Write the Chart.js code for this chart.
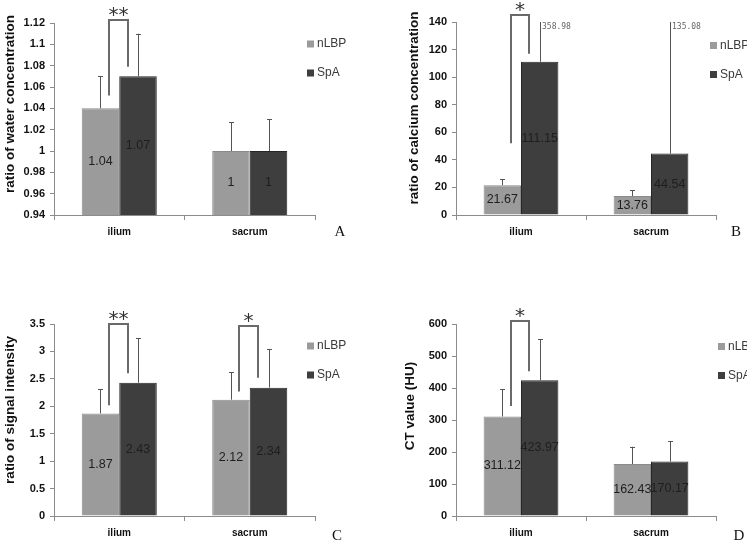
<!DOCTYPE html>
<html>
<head>
<meta charset="utf-8">
<script src="https://cdn.jsdelivr.net/npm/chart.js@4.4.1/dist/chart.umd.min.js"></script>
<style>
    html, body { margin: 0; padding: 0; background: #fff; }
    #wrap { position: relative; width: 747px; height: 542px; overflow: hidden; }
    .panel { position: absolute; }
</style>
</head>
<body>
<div id="wrap">
    <div class="panel" style="left:0;top:0;width:374px;height:250px"><canvas id="cA"></canvas></div>
    <div class="panel" style="left:374px;top:0;width:373px;height:250px"><canvas id="cB"></canvas></div>
    <div class="panel" style="left:0;top:250px;width:374px;height:292px"><canvas id="cC"></canvas></div>
    <div class="panel" style="left:374px;top:250px;width:373px;height:292px"><canvas id="cD"></canvas></div>
</div>
<script>
// ---- data ----
var categories  = ["ilium", "sacrum"];
var seriesNames = ["nLBP", "SpA"];

var waterNLBP   = [1.04, 1.00];
var waterSpA    = [1.07, 1.00];
var waterSdNLBP = [0.03, 0.027];
var waterSdSpA  = [0.04, 0.03];
var waterTicks  = [0.94, 0.96, 0.98, 1.00, 1.02, 1.04, 1.06, 1.08, 1.10, 1.12];

var calciumNLBP   = [21.67, 13.76];
var calciumSpA    = [111.15, 44.54];
var calciumSdNLBP = [4.3, 4.4];
var calciumSdSpA  = [358.98, 135.08];
var calciumTicks  = [0, 20, 40, 60, 80, 100, 120, 140];

var signalNLBP   = [1.87, 2.12];
var signalSpA    = [2.43, 2.34];
var signalSdNLBP = [0.44, 0.50];
var signalSdSpA  = [0.81, 0.70];
var signalTicks  = [0, 0.5, 1, 1.5, 2, 2.5, 3, 3.5];

var ctNLBP   = [311.12, 162.43];
var ctSpA    = [423.97, 170.17];
var ctSdNLBP = [85, 54];
var ctSdSpA  = [128, 63];
var ctTicks  = [0, 100, 200, 300, 400, 500, 600];

// significance brackets: category, left foot, right foot, top (data units)
var waterSig   = [{ cat: 0, left: 1.052, right: 1.079, top: 1.123, mark: "**" }];
var calciumSig = [{ cat: 0, left: 52, right: 117, top: 145, mark: "*" }];
var signalSig  = [{ cat: 0, left: 2.02, right: 2.60, top: 3.5, mark: "**" },
                  { cat: 1, left: 2.27, right: 2.52, top: 3.47, mark: "*" }];
var ctSig      = [{ cat: 0, left: 344, right: 452, top: 608, mark: "*" }];

var COLORS  = ["#9b9b9b", "#3e3e3e"];
var BORDERS = ["#8a8a8a", "#262626"];
var AXIS    = "#8c8c8c";
var SANS    = "'Liberation Sans', Arial, sans-serif";

// extra drawing: error bars, value labels, brackets, legend, titles
var extras = {
    id: "extras",
    afterDatasetsDraw: function (chart, args, o) {
        var ctx = chart.ctx, ys = chart.scales.y, area = chart.chartArea;
        ctx.save();

        chart.data.datasets.forEach(function (ds, di) {
            var meta = chart.getDatasetMeta(di);
            meta.data.forEach(function (bar, i) {
                var v = ds.data[i], hi = v + ds.sd[i];
                var clipped = hi > ys.max;
                var py = ys.getPixelForValue(Math.min(hi, ys.max));
                var x = Math.round(bar.x) + 0.5;
                ctx.strokeStyle = "#555";
                ctx.lineWidth = 1;
                ctx.beginPath();
                ctx.moveTo(x, bar.y);
                ctx.lineTo(x, py);
                if (!clipped) {
                    ctx.moveTo(x - 2.5, Math.round(py) + 0.5);
                    ctx.lineTo(x + 2.5, Math.round(py) + 0.5);
                }
                ctx.stroke();
                if (clipped) {
                    ctx.fillStyle = "#666";
                    ctx.font = "8px 'DejaVu Sans Mono', monospace";
                    ctx.textAlign = "left";
                    ctx.textBaseline = "middle";
                    ctx.fillText(String(ds.sd[i]), x + 1.5, py + 5);
                }
                // value label in the middle of the visible bar
                var base = Math.min(bar.base, area.bottom);
                ctx.fillStyle = "#1e1e1e";
                ctx.font = "12.5px " + SANS;
                ctx.textAlign = "center";
                ctx.textBaseline = "middle";
                ctx.fillText(String(v), bar.x, (bar.y + base) / 2);
            });
        });

        // brackets
        var m0 = chart.getDatasetMeta(0), m1 = chart.getDatasetMeta(1);
        (o.brackets || []).forEach(function (b) {
            var b0 = m0.data[b.cat], b1 = m1.data[b.cat];
            var xl = Math.round(b0.x + b0.width * 0.22);
            var xr = Math.round(b1.x - b1.width * 0.28);
            var yt = Math.round(ys.getPixelForValue(b.top));
            ctx.strokeStyle = "#6a6a6a";
            ctx.lineWidth = 2;
            ctx.beginPath();
            ctx.moveTo(xl, ys.getPixelForValue(b.left));
            ctx.lineTo(xl, yt);
            ctx.lineTo(xr, yt);
            ctx.lineTo(xr, ys.getPixelForValue(b.right));
            ctx.stroke();
            ctx.fillStyle = "#333";
            ctx.font = "20px 'DejaVu Sans', sans-serif";
            ctx.textAlign = "center";
            ctx.textBaseline = "alphabetic";
            ctx.fillText(b.mark, (xl + xr) / 2, yt + 1);
        });

        // legend
        chart.data.datasets.forEach(function (ds, di) {
            var lx = o.legend.x, ly = o.legend.y + di * 29;
            ctx.fillStyle = ds.backgroundColor;
            ctx.fillRect(lx, ly - 3.5, 7, 7);
            ctx.fillStyle = "#3a3a3a";
            ctx.font = "12px " + SANS;
            ctx.textAlign = "left";
            ctx.textBaseline = "middle";
            ctx.fillText(ds.label, lx + 10, ly);
        });

        // y title
        ctx.save();
        ctx.translate(o.title.x, o.title.y);
        ctx.rotate(-Math.PI / 2);
        ctx.fillStyle = "#111";
        ctx.font = "bold 13.5px " + SANS;
        ctx.textAlign = "center";
        ctx.textBaseline = "middle";
        ctx.fillText(o.title.text, 0, 0);
        ctx.restore();

        // panel letter
        ctx.fillStyle = "#111";
        ctx.font = "15px 'Liberation Serif', serif";
        ctx.textAlign = "center";
        ctx.textBaseline = "alphabetic";
        ctx.fillText(o.letter.text, o.letter.x, o.letter.y);

        ctx.restore();
    }
};

function panel(canvasId, cfg) {
    var el = document.getElementById(canvasId);
    var W = el.parentNode.clientWidth, H = el.parentNode.clientHeight;
    var a = cfg.area;
    var sets = [cfg.nlbp, cfg.spa];
    var sds = [cfg.sdN, cfg.sdS];

    return new Chart(el.getContext("2d"), {
        type: "bar",
        data: {
            labels: categories,
            datasets: sets.map(function (d, k) {
                return {
                    label: seriesNames[k],
                    data: d,
                    sd: sds[k],
                    backgroundColor: COLORS[k],
                    borderColor: BORDERS[k],
                    borderWidth: 1,
                    categoryPercentage: 0.575,
                    barPercentage: 1
                };
            })
        },
        options: {
            responsive: true,
            maintainAspectRatio: false,
            animation: false,
            events: [],
            layout: { padding: { left: 0, right: W - a.right, top: a.top, bottom: 0 } },
            plugins: {
                legend: { display: false },
                tooltip: { enabled: false },
                extras: cfg.extras
            },
            scales: {
                x: {
                    grid: { display: true, drawOnChartArea: false, drawTicks: true, tickLength: 5, color: AXIS },
                    border: { color: AXIS },
                    ticks: { color: "#111", font: { family: SANS, size: 10, weight: "bold" }, padding: 6 },
                    afterFit: function (s) { s.height = H - a.bottom; }
                },
                y: {
                    min: cfg.ticks[0],
                    max: cfg.ticks[cfg.ticks.length - 1],
                    grid: { display: true, drawOnChartArea: false, drawTicks: true, tickLength: 4, color: AXIS },
                    border: { color: AXIS },
                    afterBuildTicks: function (s) {
                        s.ticks = cfg.ticks.map(function (v) { return { value: v }; });
                    },
                    ticks: {
                        color: "#111",
                        font: { family: SANS, size: 11, weight: "bold" },
                        padding: 5,
                        callback: function (v) { return String(+(+v).toFixed(2)); }
                    },
                    afterFit: function (s) { s.width = a.left; }
                }
            }
        },
        plugins: [extras]
    });
}

panel("cA", {
    nlbp: waterNLBP, spa: waterSpA, sdN: waterSdNLBP, sdS: waterSdSpA, ticks: waterTicks,
    area: { left: 54, right: 315, top: 23, bottom: 215 },
    extras: {
        brackets: waterSig,
        legend: { x: 307, y: 44 },
        title: { text: "ratio of water concentration", x: 10, y: 104 },
        letter: { text: "A", x: 340, y: 236 }
    }
});

panel("cB", {
    nlbp: calciumNLBP, spa: calciumSpA, sdN: calciumSdNLBP, sdS: calciumSdSpA, ticks: calciumTicks,
    area: { left: 82, right: 342, top: 22, bottom: 215 },
    extras: {
        brackets: calciumSig,
        legend: { x: 336, y: 45.5 },
        title: { text: "ratio of calcium concentration", x: 40, y: 108 },
        letter: { text: "B", x: 362, y: 236 }
    }
});

panel("cC", {
    nlbp: signalNLBP, spa: signalSpA, sdN: signalSdNLBP, sdS: signalSdSpA, ticks: signalTicks,
    area: { left: 54, right: 315, top: 74, bottom: 266 },
    extras: {
        brackets: signalSig,
        legend: { x: 307, y: 96 },
        title: { text: "ratio of signal intensity", x: 10, y: 160 },
        letter: { text: "C", x: 337, y: 290 }
    }
});

panel("cD", {
    nlbp: ctNLBP, spa: ctSpA, sdN: ctSdNLBP, sdS: ctSdSpA, ticks: ctTicks,
    area: { left: 82, right: 342, top: 74, bottom: 266 },
    extras: {
        brackets: ctSig,
        legend: { x: 344, y: 96.5 },
        title: { text: "CT value (HU)", x: 36, y: 156 },
        letter: { text: "D", x: 365, y: 290 }
    }
});
</script>
</body>
</html>
